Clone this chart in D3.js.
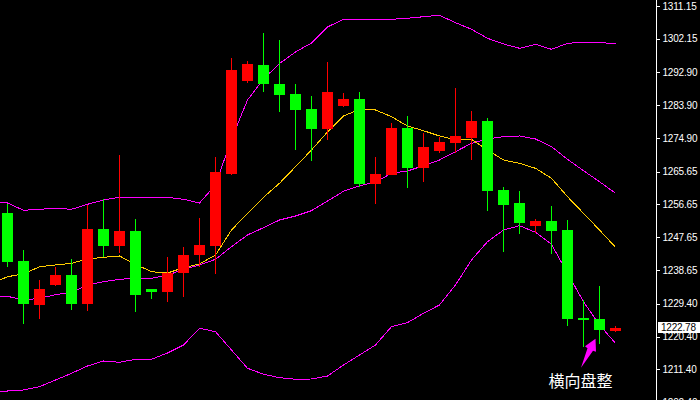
<!DOCTYPE html>
<html><head><meta charset="utf-8">
<script src="https://cdn.jsdelivr.net/npm/d3@7"></script>
<style>html,body{margin:0;padding:0;background:#000;overflow:hidden}</style>
</head><body><svg id="c" width="700" height="400"></svg>
<script>
// Candles (index 0..38)
const opens  = [1254.4,1241.1,1229.1,1234.6,1237.3,1229.4,1249.9,1245.3,1249.4,1233.4,1232.6,1237.9,1242.8,1245.3,1265.0,1290.6,1295.0,1289.7,1287.0,1282.9,1277.4,1283.7,1285.6,1262.3,1264.8,1277.7,1266.7,1271.3,1273.5,1274.9,1279.6,1260.6,1257.1,1250.8,1252.1,1249.6,1225.5,1225.2,1222.0];
const highs  = [1256.8,1244.2,1235.9,1239.4,1241.7,1256.5,1258.2,1270.2,1252.7,1233.5,1242.2,1245.0,1252.9,1269.6,1296.8,1296.0,1303.7,1301.8,1289.7,1286.4,1295.8,1287.3,1287.5,1269.7,1279.0,1281.0,1276.3,1275.2,1288.6,1282.3,1280.4,1261.5,1260.4,1252.7,1256.2,1252.4,1230.4,1234.3,1223.3];
const lows   = [1239.6,1223.8,1225.3,1234.3,1227.7,1227.4,1242.2,1243.4,1227.2,1230.7,1230.0,1231.3,1239.6,1237.6,1264.8,1290.1,1287.5,1282.1,1271.6,1268.6,1274.4,1283.4,1261.5,1256.8,1264.7,1261.2,1262.8,1270.8,1270.8,1268.9,1254.9,1243.6,1248.6,1248.8,1243.1,1223.3,1217.5,1218.4,1221.6];
const closes = [1240.9,1229.4,1233.5,1237.3,1229.4,1249.9,1245.3,1249.4,1231.9,1232.7,1237.9,1242.8,1245.5,1265.6,1293.6,1295.2,1289.7,1286.7,1282.6,1277.4,1287.5,1285.6,1262.3,1265.0,1277.7,1266.7,1272.4,1273.8,1275.5,1279.6,1260.4,1256.5,1251.6,1252.1,1249.4,1225.2,1224.9,1222.2,1222.78];

// Indicator lines (index -1..38)
const upperBand = [1257.34,1257.06,1255.06,1255.33,1255.61,1255.33,1256.71,1257.89,1258.63,1258.63,1258.63,1258.63,1258.08,1257.06,1262.00,1274.63,1285.34,1291.11,1295.36,1298.52,1300.99,1305.39,1307.50,1307.50,1307.50,1307.50,1307.78,1308.21,1308.60,1306.57,1304.76,1302.28,1300.72,1299.54,1300.64,1299.26,1300.91,1301.19,1301.19,1300.72];
const midBand   = [1231.61,1231.44,1230.43,1230.90,1231.88,1232.54,1234.55,1235.45,1236.11,1236.39,1236.39,1237.21,1238.86,1240.04,1241.60,1245.06,1248.28,1250.28,1252.39,1253.49,1254.95,1257.61,1260.27,1261.73,1262.83,1265.22,1265.85,1267.30,1268.87,1271.15,1273.45,1274.63,1275.27,1275.46,1274.63,1272.52,1269.06,1265.93,1262.91,1259.73];
const lowerBand = [1205.44,1205.44,1205.72,1206.62,1208.46,1210.30,1212.31,1213.68,1213.32,1214.15,1214.15,1215.88,1218.07,1222.66,1221.73,1216.70,1211.68,1210.03,1209.10,1208.66,1208.74,1209.56,1212.58,1215.33,1218.07,1223.10,1224.20,1226.78,1229.06,1234.55,1241.41,1246.44,1249.65,1250.83,1249.02,1245.72,1237.76,1229.96,1223.56,1218.54];
const maLine    = [1234.88,1236.83,1237.57,1239.57,1240.04,1240.50,1241.69,1242.15,1242.51,1240.23,1238.20,1237.84,1239.30,1240.31,1242.78,1249.65,1254.23,1258.63,1262.47,1267.03,1271.61,1276.56,1280.95,1282.79,1282.60,1280.76,1278.20,1276.91,1275.46,1274.36,1274.55,1271.61,1268.87,1267.96,1266.59,1263.84,1258.79,1254.23,1249.65,1244.90];

const tickLabels = ["1311.15","1302.15","1292.90","1283.90","1274.90","1265.65","1256.65","1247.65","1238.65","1229.40","1220.40","1211.40","1202.40"];
const lastPrice = 1222.78;
const noteText = "横向盘整";
const noteCandle = 37;

const W = 700, H = 400, axisX = 656;
const svg = d3.select("#c");
svg.append("rect").attr("width", W).attr("height", H).attr("fill", "#000");

const x = d3.scaleLinear().domain([-1, 38]).range([-8.5, 615.5]);
const y = d3.scaleLinear().domain([1202.97, 1312.797]).range([H, 0]);

const UP = "#ff0000", DOWN = "#00ff00";

// lines
const lineGen = d3.line().x((d, i) => x(i - 1)).y(d => y(d));
const lg = svg.append("g").attr("fill", "none").attr("stroke-width", 1).attr("shape-rendering", "crispEdges");
[[upperBand, "#ff00ff"], [midBand, "#ff00ff"], [lowerBand, "#ff00ff"], [maLine, "#ffcc00"]].forEach(([arr, col]) => {
  lg.append("path").attr("d", lineGen(arr)).attr("stroke", col);
});

// candles
const candles = opens.map((o, i) => ({ i, o, h: highs[i], l: lows[i], c: closes[i] }));
const cg = svg.append("g").attr("shape-rendering", "crispEdges");
const g = cg.selectAll("g").data(candles).join("g");
g.append("line")
  .attr("x1", d => x(d.i)).attr("x2", d => x(d.i))
  .attr("y1", d => Math.round(y(d.h))).attr("y2", d => Math.round(y(d.l)))
  .attr("stroke", d => d.c >= d.o ? UP : DOWN).attr("stroke-width", 1);
g.append("rect")
  .attr("x", d => x(d.i) - 5.5).attr("width", 11)
  .attr("y", d => Math.round(y(Math.max(d.o, d.c))))
  .attr("height", d => Math.max(2, Math.round(y(Math.min(d.o, d.c))) - Math.round(y(Math.max(d.o, d.c)))))
  .attr("fill", d => d.c >= d.o ? UP : DOWN);

// right axis
const tickVals = tickLabels.map(Number);
const axis = d3.axisRight(y).tickValues(tickVals).tickFormat((d, i) => tickLabels[i]).tickSize(3).tickPadding(3);
const ag = svg.append("g").attr("transform", `translate(${axisX + 0.5},0)`).call(axis);
ag.select(".domain").remove();
ag.selectAll(".tick line").attr("stroke", "#fff").attr("shape-rendering", "crispEdges");
ag.selectAll(".tick text").attr("fill", "#fff").attr("font-family", "Liberation Sans, Arial, sans-serif").attr("font-size", 10).attr("letter-spacing", "-0.2px");
svg.append("line").attr("x1", axisX + 0.5).attr("x2", axisX + 0.5).attr("y1", 0).attr("y2", H).attr("stroke", "#fff").attr("shape-rendering", "crispEdges");

// last price tag
const ly = y(lastPrice);
svg.append("rect").attr("x", axisX + 2).attr("y", Math.round(ly - 5.5)).attr("width", 42).attr("height", 11).attr("fill", "#fff");
svg.append("text").attr("x", axisX + 5).attr("y", ly).attr("dy", "0.35em").attr("fill", "#000")
  .attr("font-family", "Liberation Sans, Arial, sans-serif").attr("font-size", 10).attr("letter-spacing", "-0.2px").text(lastPrice.toFixed(2));

// annotation arrow + text
const tipX = x(noteCandle) - 4, tipY = y(lows[noteCandle]) - 5;
const arrowPts = [[0,0],[0.5,13],[-2.5,12],[-14.5,29],[-8,9.5],[-10.5,7.5]];
svg.append("polygon").attr("points", arrowPts.map(p => [tipX + p[0], tipY + p[1]].join(",")).join(" ")).attr("fill", "#ff00ff");
svg.append("text").attr("x", tipX - 47).attr("y", tipY + 48).attr("fill", "#fff")
  .attr("font-family", "Noto Sans CJK SC, sans-serif").attr("font-size", 16).text(noteText);
</script></body></html>
